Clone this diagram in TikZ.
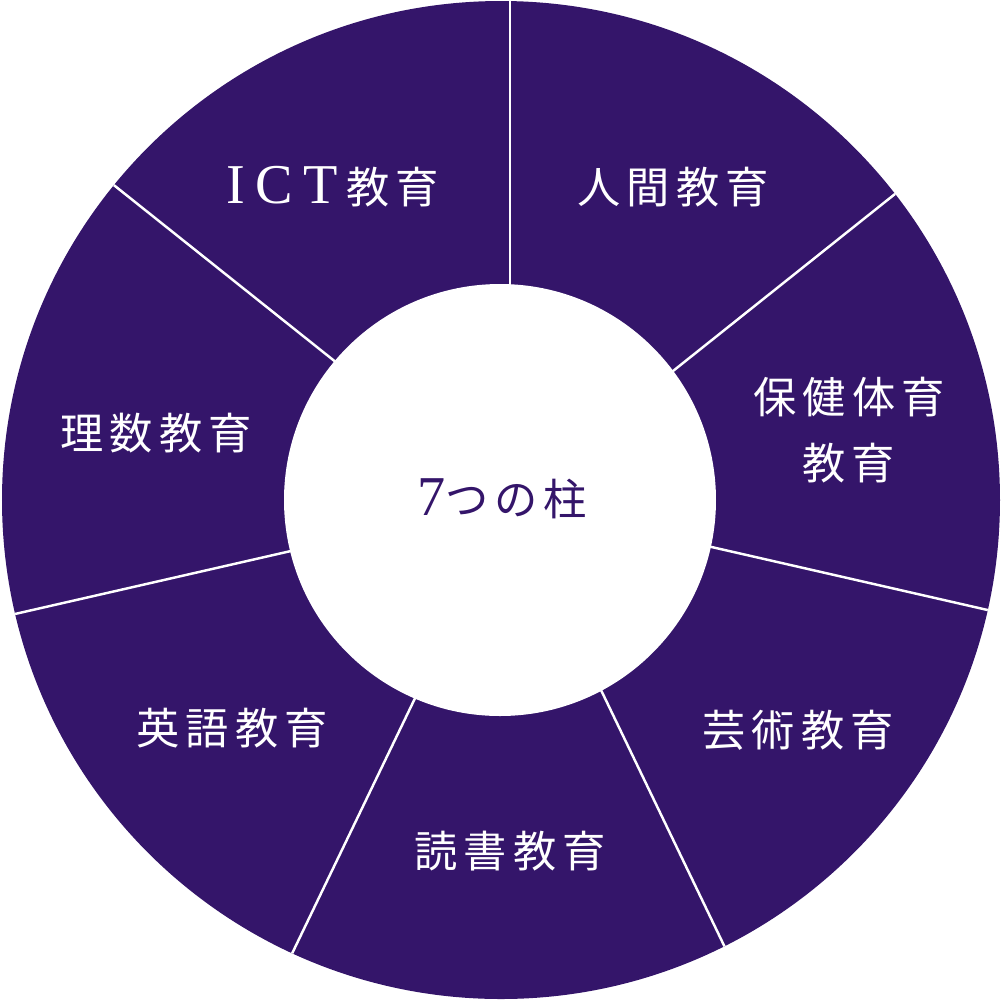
\documentclass[tikz,border=0pt]{standalone}
\usepackage{fontspec}
\setmainfont{Liberation Serif}
\newfontfamily\jp[LetterSpace=14]{Noto Sans CJK JP}
\newfontfamily\lat[LetterSpace=18,Scale=1.3]{Liberation Serif}
\definecolor{pillar}{HTML}{34156A}
\begin{document}
\begin{tikzpicture}[x=0.01cm,y=-0.01cm,
  seg/.style={text=white,font=\fontsize{12.3pt}{18.8pt}\selectfont\jp,align=center,inner sep=0pt},
  divider/.style={draw=white,line width=0.7pt}]
\useasboundingbox (0,0) rectangle (1002,1002);
\fill[pillar] (501,500) circle[radius=499];
\coordinate (c) at (501,500);
\coordinate (c2) at (510,501);
\begin{scope}
\clip (501,500) circle[radius=499];
\foreach \k in {0,...,6}{
  \draw[divider] (c2) -- ++({-90+\k*360/7}:560);
}
\end{scope}
\fill[white] (500,500) circle[radius=216];
\node[seg] (ict) at (333,187) {{\lat ICT}\hspace{2.5pt}教育};
\node[seg] (ningen) at (673,187) {人間教育};
\node[seg] (hoken) at (849,430) {保健体育\\教育};
\node[seg] (geijutsu) at (798,730) {芸術教育};
\node[seg] (dokusho) at (510,851) {読書教育};
\node[seg] (eigo) at (232,728) {英語教育};
\node[seg] (risu) at (156,433) {理数教育};
\node[seg,text=pillar] (center) at (502,499) {{\lat 7}つの柱};
\end{tikzpicture}
\end{document}
